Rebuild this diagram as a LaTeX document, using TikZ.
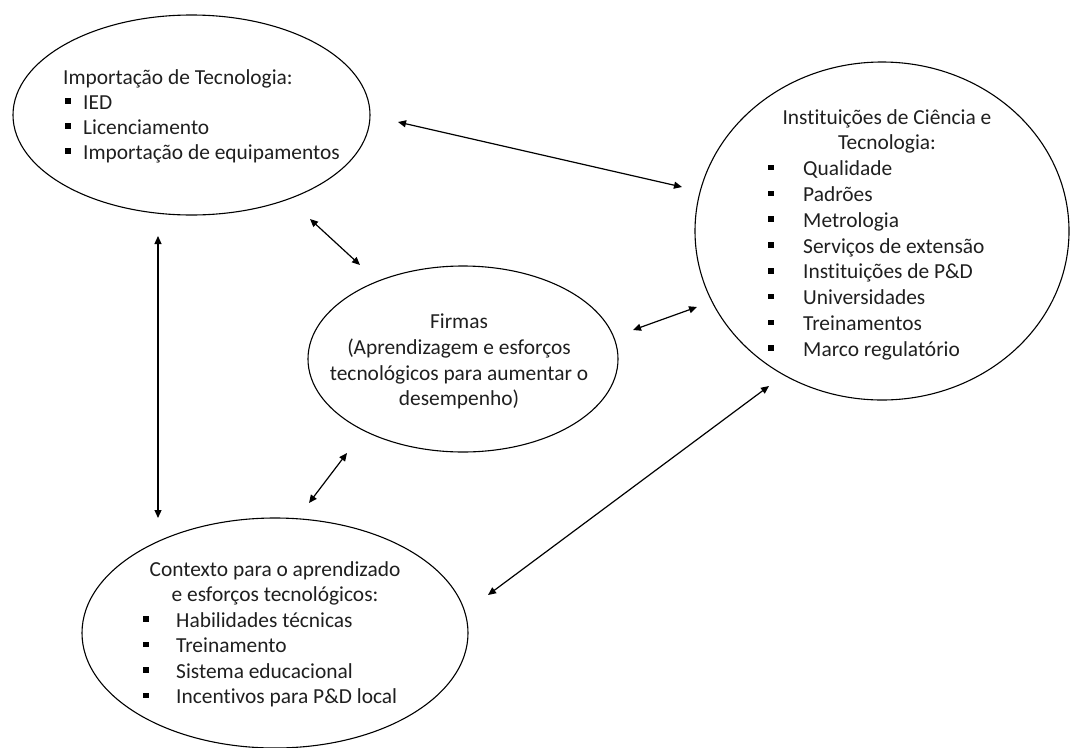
\documentclass[tikz,border=0pt]{standalone}
\usepackage{fontspec}
\setmainfont{Carlito}[Ligatures=NoCommon]
\usetikzlibrary{shapes.geometric,arrows.meta}
\tikzset{
  bubble/.style={draw, ellipse, line width=1.1pt, inner sep=0pt},
  txt/.style={inner sep=0pt, text=black!88, font=\fontsize{21.4}{25}\selectfont},
  bul/.style={fill=black, minimum size=5.5pt, inner sep=0pt},
  link/.style={line width=1.2pt, {Triangle[length=8pt,width=7pt]}-{Triangle[length=8pt,width=7pt]}},
}
% bullet item: name, bullet x, text x, baseline y, text
\newcommand\bitem[5]{%
  \node[bul] (#1b) at (#2,#4-8) {};
  \node[txt, anchor=base west] (#1) at (#3,#4) {#5};
}
\begin{document}
\begin{tikzpicture}[x=1pt,y=-1pt]
\useasboundingbox (0,0) rectangle (1070,747);

% the four areas
\node[bubble, minimum width=357pt, minimum height=200pt] (imp) at (191.5,115) {};
\node[bubble, minimum width=374pt, minimum height=338pt] (inst) at (882,231) {};
\node[bubble, minimum width=310pt, minimum height=186pt] (firm) at (463,359) {};
\node[bubble, minimum width=386pt, minimum height=230pt] (ctx) at (275,633) {};

% technology imports
\node[txt, anchor=base west] (impt) at (63,84) {Importação de Tecnologia:};
\bitem{imp1}{68}{83}{109}{IED}
\bitem{imp2}{68}{83}{134}{Licenciamento}
\bitem{imp3}{68}{83}{159}{Importação de equipamentos}

% science and technology institutions
\node[txt, anchor=base] (instt1) at (887,124) {Instituições de Ciência e};
\node[txt, anchor=base] (instt2) at (887,149.8) {Tecnologia:};
\bitem{inst1}{771}{803}{175.6}{Qualidade}
\bitem{inst2}{771}{803}{201.4}{Padrões}
\bitem{inst3}{771}{803}{227.2}{Metrologia}
\bitem{inst4}{771}{803}{253}{Serviços de extensão}
\bitem{inst5}{771}{803}{278.8}{Instituições de P\&D}
\bitem{inst6}{771}{803}{304.6}{Universidades}
\bitem{inst7}{771}{803}{330.4}{Treinamentos}
\bitem{inst8}{771}{803}{356.2}{Marco regulatório}

% firms
\node[txt, anchor=base] (firm1) at (459,328) {Firmas};
\node[txt, anchor=base] (firm2) at (459,354) {(Aprendizagem e esforços};
\node[txt, anchor=base] (firm3) at (459,380) {tecnológicos para aumentar o};
\node[txt, anchor=base] (firm4) at (459,405) {desempenho)};

% learning context
\node[txt, anchor=base] (ctxt1) at (275,576) {Contexto para o aprendizado};
\node[txt, anchor=base] (ctxt2) at (275,601.5) {e esforços tecnológicos:};
\bitem{ctx1}{146}{176}{627}{Habilidades técnicas}
\bitem{ctx2}{146}{176}{652.5}{Treinamento}
\bitem{ctx3}{146}{176}{678}{Sistema educacional}
\bitem{ctx4}{146}{176}{703.5}{Incentivos para P\&D local}

% connector ends
\coordinate (a1s) at (398,122);  \coordinate (a1e) at (682,187);
\coordinate (a2s) at (310,219);  \coordinate (a2e) at (360,265);
\coordinate (a3s) at (158,236);  \coordinate (a3e) at (158,518);
\coordinate (a4s) at (633,330);  \coordinate (a4e) at (697,307);
\coordinate (a5s) at (309,503);  \coordinate (a5e) at (347,453);
\coordinate (a6s) at (488,595);  \coordinate (a6e) at (769,386);

\draw[link] (a1s) -- (a1e);
\draw[link] (a2s) -- (a2e);
\draw[link] (a3s) -- (a3e);
\draw[link] (a4s) -- (a4e);
\draw[link] (a5s) -- (a5e);
\draw[link] (a6s) -- (a6e);
\end{tikzpicture}
\end{document}
